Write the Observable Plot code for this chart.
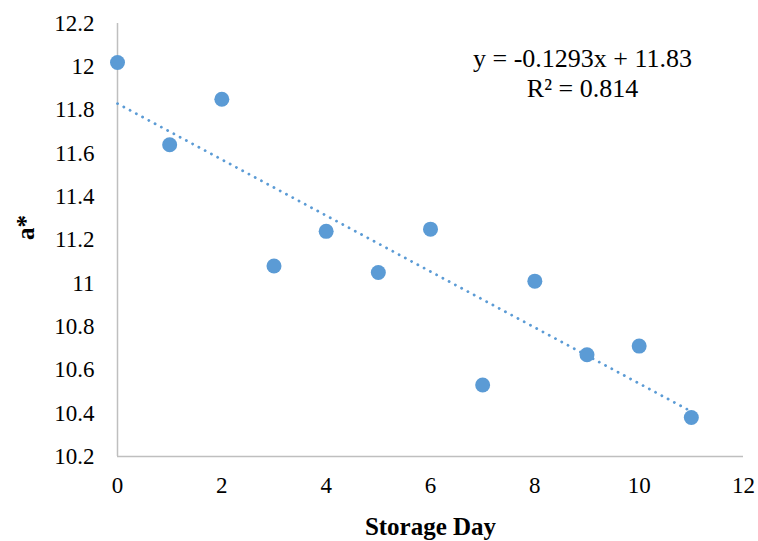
<!DOCTYPE html>
<html>
<head>
<meta charset="utf-8">
<script src="https://cdn.jsdelivr.net/npm/d3@7"></script>
<script src="https://cdn.jsdelivr.net/npm/@observablehq/plot@0.6"></script>
<style>
  html, body { margin: 0; padding: 0; background: #fff; }
  #chart svg { display: block; }
</style>
</head>
<body>
<div id="chart"></div>
<script>
// Storage day vs. a* colour value
const days = [0, 1, 2, 3, 4, 5, 6, 7, 8, 9, 10, 11];
const aStar = [12.02, 11.64, 11.85, 11.08, 11.24, 11.05, 11.25, 10.53, 11.01, 10.67, 10.71, 10.38];

// Linear trendline as reported
const slope = -0.1293;
const intercept = 11.83;
const rSquared = 0.814;

const xTicks = [0, 2, 4, 6, 8, 10, 12];
const yTicks = [10.2, 10.4, 10.6, 10.8, 11, 11.2, 11.4, 11.6, 11.8, 12, 12.2];

const points = days.map((d, i) => ({day: d, a: aStar[i]}));
const trend = [0, 11].map(d => ({day: d, a: intercept + slope * d}));

const blue = "#5B9BD5";
const axisGray = "#BFBFBF";
const serif = "'Times New Roman', 'Liberation Serif', Tinos, 'DejaVu Serif', serif";

const chart = Plot.plot({
  width: 758,
  height: 541,
  marginLeft: 117,
  marginRight: 15,
  marginTop: 23,
  marginBottom: 85,
  style: {fontFamily: serif, fontSize: "23px", color: "#000", background: "#fff"},
  x: {domain: [0, 12]},
  y: {domain: [10.2, 12.2]},
  marks: [
    Plot.axisX({ticks: xTicks, tickSize: 0, tickPadding: 20, label: null,
      fontSize: 23, fontFamily: serif}),
    Plot.axisY({ticks: yTicks, tickSize: 0, tickPadding: 23, label: null,
      fontSize: 23, fontFamily: serif, tickFormat: d => String(+d.toFixed(1))}),
    Plot.ruleX([0], {stroke: axisGray, strokeWidth: 1.5}),
    Plot.ruleY([10.2], {stroke: axisGray, strokeWidth: 1.5}),
    Plot.line(trend, {x: "day", y: "a", stroke: blue, strokeWidth: 2.8,
      strokeLinecap: "round", strokeDasharray: "0.1 7"}),
    Plot.dot(points, {x: "day", y: "a", r: 7.5, fill: blue}),
    Plot.text([`y = ${slope}x + ${intercept}\nR² = ${rSquared}`], {
      frameAnchor: "top-left", dx: 465, dy: 22, lineAnchor: "top",
      textAnchor: "middle", lineHeight: 1.15, fontSize: 26, fontFamily: serif, fill: "#000"
    }),
    Plot.text(["Storage Day"], {
      frameAnchor: "bottom", dy: 78, fontSize: 25, fontFamily: serif,
      fontWeight: "bold", fill: "#000"
    }),
    Plot.text(["a*"], {
      frameAnchor: "left", dx: -92, rotate: -90, fontSize: 25, fontFamily: serif,
      fontWeight: "bold", fill: "#000"
    })
  ]
});

document.getElementById("chart").appendChild(chart);
</script>
</body>
</html>
